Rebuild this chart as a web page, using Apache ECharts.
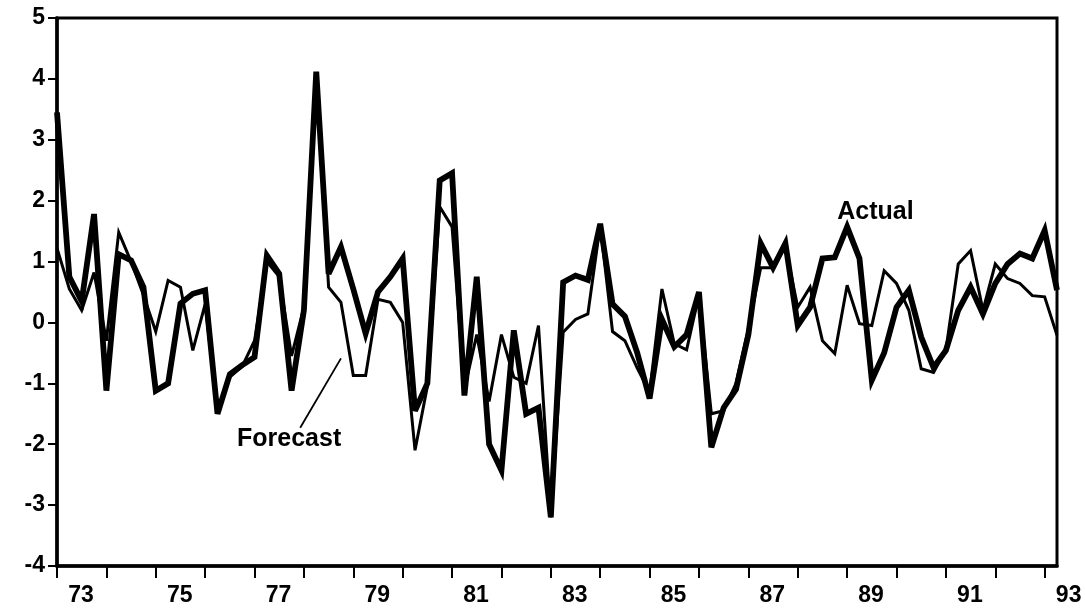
<!DOCTYPE html>
<html>
<head>
<meta charset="utf-8">
<script src="https://cdn.jsdelivr.net/npm/echarts@6/dist/echarts.min.js"></script>
<style>
  html, body { margin: 0; padding: 0; background: #fff; }
  #chart { width: 1085px; height: 609px; }
</style>
</head>
<body>
<div id="chart"></div>
<script>
// Quarterly periods, 1973 Q1 through 1993 Q2
const quarters = [];
for (let y = 73; y <= 93; y++) {
  for (let q = 1; q <= 4; q++) {
    if (y === 93 && q > 2) break;
    quarters.push(y + 'Q' + q);
  }
}

// Actual values (thick line)
const actual = [
  3.45, 0.75, 0.35, 1.78, -1.12, 1.12, 1.02, 0.58, -1.12, -1.0,
  0.31, 0.47, 0.53, -1.5, -0.85, -0.7, -0.57, 1.1, 0.8, -1.12,
  0.2, 4.12, 0.8, 1.24, 0.55, -0.18, 0.5, 0.75, 1.05, -1.45,
  -1.0, 2.33, 2.45, -1.2, 0.75, -2.0, -2.43, -0.13, -1.5, -1.4,
  -3.2, 0.66, 0.77, 0.7, 1.62, 0.3, 0.1, -0.5, -1.25, 0.05,
  -0.4, -0.2, 0.5, -2.05, -1.4, -1.1, -0.2, 1.3, 0.9, 1.3,
  -0.05, 0.25, 1.05, 1.07, 1.57, 1.05, -0.95, -0.5, 0.25, 0.53,
  -0.24, -0.74, -0.46, 0.2, 0.58, 0.14, 0.64, 0.96, 1.13, 1.05,
  1.51, 0.53
];

// Forecast values (thin line)
const forecast = [
  1.22, 0.55, 0.2, 0.82, -0.3, 1.48, 1.0, 0.45, -0.15, 0.69,
  0.58, -0.46, 0.3, -1.45, -0.9, -0.72, -0.3, 1.0, 0.75, -0.55,
  0.25, 4.02, 0.58, 0.33, -0.87, -0.87, 0.38, 0.33, 0.0, -2.1,
  -1.05, 1.9, 1.57, -1.1, -0.2, -1.3, -0.2, -0.9, -1.0, -0.05,
  -3.2, -0.16, 0.05, 0.14, 1.6, -0.15, -0.3, -0.75, -1.15, 0.55,
  -0.35, -0.45, 0.45, -1.5, -1.45, -1.0, -0.1, 0.9, 0.9, 1.25,
  0.25, 0.58, -0.3, -0.51, 0.61, -0.02, -0.05, 0.85, 0.64, 0.2,
  -0.76, -0.82, -0.45, 0.96, 1.18, 0.2, 0.96, 0.72, 0.64, 0.44,
  0.42, -0.21
];

// Y axis range
const yMin = -4, yMax = 5, yStep = 1;

// Series labels, placed in data space (quarter index, value)
const notes = [
  { text: 'Actual', at: [66.3, 1.81] },
  { text: 'Forecast', at: [18.8, -1.92] }
];
const leader = [[19.7, -1.73], [23.0, -0.59]];

const FONT = "'Liberation Sans', Arial, Helvetica, sans-serif";
const chart = echarts.init(document.getElementById('chart'), null, { renderer: 'canvas' });

chart.setOption({
  backgroundColor: '#ffffff',
  animation: false,
  grid: {
    left: 57, right: 28, top: 18, bottom: 43,
    show: true, borderColor: '#000', borderWidth: 3, backgroundColor: 'transparent'
  },
  xAxis: {
    type: 'category',
    data: quarters,
    boundaryGap: false,
    axisLine: { onZero: false, lineStyle: { color: '#000', width: 3.5 } },
    axisTick: {
      length: 12,
      lineStyle: { color: '#000', width: 2 },
      interval: (i) => i % 4 === 0
    },
    axisLabel: {
      interval: (i) => i % 8 === 0,
      formatter: (v) => v.slice(0, 2),
      color: '#000',
      fontFamily: FONT,
      fontWeight: 'bold',
      fontSize: 23,
      margin: 18,
      align: 'center',
      padding: [0, 0, 0, 48]
    },
    splitLine: { show: false }
  },
  yAxis: {
    type: 'value',
    min: yMin, max: yMax, interval: yStep,
    axisLine: { show: true, lineStyle: { color: '#000', width: 3.5 } },
    axisTick: { show: true, length: 9, lineStyle: { color: '#000', width: 2 } },
    axisLabel: {
      color: '#000',
      fontFamily: FONT,
      fontWeight: 'bold',
      fontSize: 23,
      margin: 12
    },
    splitLine: { show: false }
  },
  series: [
    {
      name: 'Forecast',
      type: 'line',
      data: forecast,
      symbol: 'none',
      z: 3,
      lineStyle: { color: '#000', width: 3, join: 'miter', miterLimit: 4 }
    },
    {
      name: 'Actual',
      type: 'line',
      data: actual,
      symbol: 'none',
      z: 2,
      lineStyle: { color: '#000', width: 5.8, join: 'miter', miterLimit: 4 }
    }
  ]
});

// Convert a (fractional quarter index, value) pair to pixels
function toPx(pos) {
  const i0 = Math.floor(pos[0]);
  const f = pos[0] - i0;
  const a = chart.convertToPixel({ gridIndex: 0 }, [i0, pos[1]]);
  const b = chart.convertToPixel({ gridIndex: 0 }, [i0 + 1, pos[1]]);
  return [a[0] + (b[0] - a[0]) * f, a[1]];
}

const p0 = toPx(leader[0]);
const p1 = toPx(leader[1]);
const graphics = notes.map((n) => {
  const p = toPx(n.at);
  return {
    type: 'text',
    x: p[0], y: p[1],
    style: {
      text: n.text,
      fill: '#000',
      font: 'bold 25px ' + FONT,
      textAlign: 'center',
      textVerticalAlign: 'middle'
    },
    z: 10
  };
});
graphics.push({
  type: 'line',
  shape: { x1: p0[0], y1: p0[1], x2: p1[0], y2: p1[1] },
  style: { stroke: '#000', lineWidth: 1.8 },
  z: 10
});
chart.setOption({ graphic: graphics });
</script>
</body>
</html>
